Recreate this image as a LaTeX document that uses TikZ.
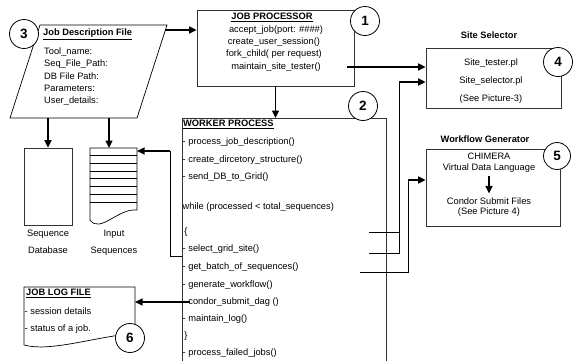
\documentclass[tikz,border=0pt]{standalone}
\usepackage{fontspec}
\setmainfont{Liberation Sans}
\usetikzlibrary{arrows.meta, positioning}

\begin{document}
\begin{tikzpicture}[x=1pt, y=-1pt,
  box/.style={draw=black!80, line width=0.8pt, inner sep=0pt},
  txt/.style={font=\fontsize{9.3}{11}\selectfont, inner sep=0pt, text height=6.8pt, text depth=1.9pt},
  row/.style={txt, anchor=west},
  ttl/.style={txt, font=\fontsize{9.3}{11}\selectfont\bfseries},
  num/.style={circle, draw, fill=white, line width=0.8pt, minimum size=29pt, inner sep=0pt, font=\fontsize{13.5}{14}\selectfont\bfseries},
  edge/.style={-{Triangle[length=7.5pt, width=7pt]}, line width=1.5pt},
  wire/.style={line width=0.7pt}
]
\useasboundingbox (0,0) rectangle (581,360);

% job description file
\coordinate (jdftl) at (40,25);
\coordinate (jdfbl) at (10,118);
\coordinate (jdfout) at (165,30);
\draw[wire] (jdftl) -- (167,25) -- (137,118) -- (jdfbl) -- cycle;
\node[ttl, anchor=west] (jdftitle) at (43,33) {\underline{Job Description File}};
\node[row] (jdf1) at (44,52) {Tool\_name:};
\node[row] (jdf2) at (44,64) {Seq\_File\_Path:};
\node[row] (jdf3) at (44,77) {DB File Path:};
\node[row] (jdf4) at (44,89) {Parameters:};
\node[row] (jdf5) at (44,101) {User\_details:};

% sequence stores
\node[box, minimum width=48pt, minimum height=77pt] (seqdb) at (48,186.5) {};
\node[txt] (seqdblab1) at (48,234) {Sequence};
\node[txt] (seqdblab2) at (48,251) {Database};

\coordinate (inseqtop) at (109,148);
\coordinate (inseqin) at (137,151);
\draw[wire] (137,148) -- (90,148) -- (90,220) .. controls (100,234) and (118,208) .. (137,210) -- cycle;
\foreach \y in {155,163,171,178,186,194,202}
  \draw[wire] (90,\y) -- (137,\y);
\node[txt] (inseqlab1) at (114,234) {Input};
\node[txt] (inseqlab2) at (114,251) {Sequences};

% job processor
\node[box, minimum width=157pt, minimum height=76pt] (jp) at (275.5,48) {};
\node[ttl] (jptitle) at (272,17) {\underline{JOB PROCESSOR}};
\node[txt] (jp1) at (276,30) {accept\_job(port: \#\#\#\#)};
\node[txt] (jp2) at (274,42) {create\_user\_session()};
\node[txt] (jp3) at (274,54) {fork\_child( per request)};
\node[txt] (jp4) at (276,67) {maintain\_site\_tester()};
\coordinate (jpout) at (347,67);

% site selector
\node[box, minimum width=135pt, minimum height=60pt] (ss) at (493.5,78) {};
\node[ttl] (sstitle) at (489,36) {Site Selector};
\node[txt] (ss1) at (491,63) {Site\_tester.pl};
\node[txt] (ss2) at (491,81) {Site\_selector.pl};
\node[txt] (ss3) at (491,99) {(See Picture-3)};

% workflow generator
\node[box, minimum width=134pt, minimum height=77pt] (wg) at (493,187.5) {};
\node[ttl] (wgtitle) at (485,140) {Workflow Generator};
\node[txt] (wg1) at (489,157) {CHIMERA};
\node[txt] (wg2) at (489,168) {Virtual Data Language};
\node[txt] (wg3) at (489,202) {Condor Submit Files};
\node[txt] (wg4) at (489,212) {(See Picture 4)};
\draw[edge, shorten <=3pt, shorten >=4pt] (wg2) -- (wg3);

% worker process
\coordinate (wpnw) at (182,118);
\coordinate (wpne) at (386,118);
\draw[box] (wpnw |- 0,362) -- (wpnw) -- (wpne) -- (wpne |- 0,362);
\node[ttl, anchor=west] (wptitle) at (183,124) {\underline{WORKER PROCESS}};
\foreach \y/\t [count=\i] in {
    142/{- process\_job\_description()},
    160/{- create\_dircetory\_structure()},
    177/{- send\_DB\_to\_Grid()},
    207/{while (processed < total\_sequences)},
    232/{\,\{},
    249/{- select\_grid\_site()},
    267/{- get\_batch\_of\_sequences()},
    285/{- generate\_workflow()},
    302/{- condor\_submit\_dag ()},
    319/{- maintain\_log()},
    336/{\,\}},
    353/{- process\_failed\_jobs()}}
  \node[row] (wrow\i) at (182.5,\y) {\t};

% job log file
\draw[wire] (24,287) -- (135,287) -- (135,333) .. controls (90,338) and (50,352) .. (24,345) -- cycle;
\coordinate (login) at (135,302);
\node[ttl, anchor=west] (logtitle) at (26,293) {\underline{JOB LOG FILE}};
\node[row] (log1) at (24.5,312) {- session details};
\node[row] (log2) at (24.5,329) {- status of a job.};

% connectors
\draw[edge] (jdfout) -- (jdfout -| jp.west);
\draw[edge] (seqdb.north |- jdfbl) -- (seqdb.north);
\draw[edge] (inseqtop |- jdfbl) -- (inseqtop);
\draw[edge] (jp.south) -- (jp.south |- wpnw);
\draw[edge] (jpout) -- (jpout -| ss.west);

\coordinate (selA) at (369,232);
\coordinate (selB) at (369,253);
\coordinate (selbus) at (399,82);
\draw[wire] (selA) -- (selA -| selbus);
\draw[wire] (selB) -| (selbus);
\draw[edge] (selbus) -- (selbus -| ss.west);

\coordinate (wfA) at (360,272);
\coordinate (wfbus) at (408,180);
\draw[wire] (wfA) -| (wfbus);
\draw[edge] (wfbus) -- (wfbus -| wg.west);

\coordinate (wpin) at (182,256);
\coordinate (inbend) at (170,151);
\draw[wire] (wpin) -| (inbend);
\draw[edge] (inbend) -- (inseqin);

\coordinate (wplog) at (190,302);
\draw[edge] (wplog) -- (login);

% step numbers
\node[num] (n1) at (365,21) {1};
\node[num] (n2) at (363,106) {2};
\node[num] (n3) at (24,34) {3};
\node[num] (n4) at (558,62) {4};
\node[num, minimum size=27pt] (n5) at (557,156) {5};
\node[num] (n6) at (130,338) {6};
\end{tikzpicture}
\end{document}
